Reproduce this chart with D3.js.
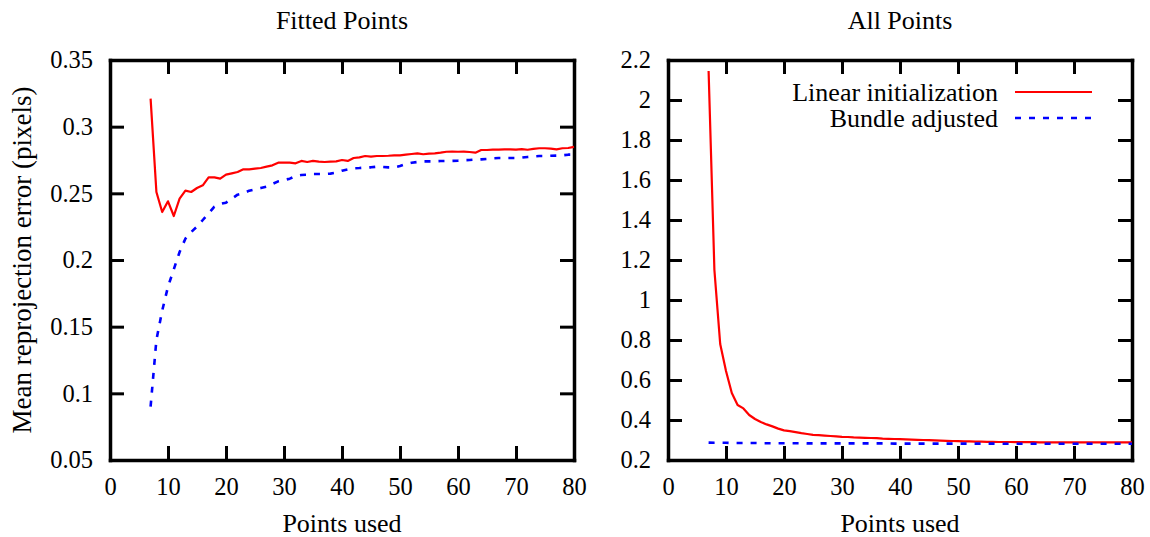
<!DOCTYPE html>
<html>
<head>
<meta charset="utf-8">
<script src="https://cdn.jsdelivr.net/npm/d3@7"></script>
<style>
	body { margin: 0; background: #fff; }
	svg { display: block; font-family: "Liberation Serif", "Times New Roman", serif; }
	.axis text { font-size: 24.5px; font-family: "Liberation Serif", serif; fill: #000; }
	.axis path { stroke: #000; stroke-width: 3.5; stroke-linecap: square; }
	.axis line { stroke: #000; stroke-width: 3; }
	.label { font-size: 26px; fill: #000; }
	.ylabel { font-size: 27px; fill: #000; }
</style>
</head>
<body>
<div id="chart"></div>
<script>
// x values (points used), one per sample
var pointsUsed = [7, 8, 9, 10, 11, 12, 13, 14, 15, 16, 17, 18, 19, 20, 21, 22, 23, 24, 25, 26,
	27, 28, 29, 30, 31, 32, 33, 34, 35, 36, 37, 38, 39, 40, 41, 42, 43, 44, 45, 46,
	47, 48, 49, 50, 51, 52, 53, 54, 55, 56, 57, 58, 59, 60, 61, 62, 63, 64, 65, 66,
	67, 68, 69, 70, 71, 72, 73, 74, 75, 76, 77, 78, 79, 80];

// left panel : fitted points
var fittedLinear = [0.321, 0.251, 0.236, 0.244, 0.233, 0.246, 0.252, 0.251, 0.254, 0.256,
	0.262, 0.262, 0.261, 0.264, 0.265, 0.266, 0.268, 0.268, 0.2685, 0.269,
	0.270, 0.271, 0.273, 0.273, 0.273, 0.2725, 0.2743, 0.2735, 0.2743, 0.2738,
	0.2735, 0.2738, 0.274, 0.275, 0.2743, 0.2765, 0.277, 0.278, 0.2775, 0.278,
	0.278, 0.2782, 0.2785, 0.2785, 0.279, 0.2795, 0.280, 0.2793, 0.2798, 0.280,
	0.2805, 0.2812, 0.2813, 0.2812, 0.2813, 0.281, 0.2805, 0.2825, 0.2825, 0.2828,
	0.2828, 0.283, 0.283, 0.2828, 0.2832, 0.2827, 0.2833, 0.2838, 0.2838, 0.2835,
	0.283, 0.2838, 0.284, 0.2848];
var fittedBundle = [0.090, 0.140, 0.162, 0.180, 0.193, 0.206, 0.216, 0.221, 0.225, 0.230,
	0.235, 0.240, 0.242, 0.243, 0.246, 0.249, 0.250, 0.252, 0.253, 0.254,
	0.255, 0.257, 0.259, 0.260, 0.261, 0.263, 0.2638, 0.264, 0.2645, 0.2645,
	0.2645, 0.2648, 0.2655, 0.267, 0.268, 0.2688, 0.269, 0.2693, 0.2695, 0.270,
	0.2698, 0.2695, 0.2695, 0.2705, 0.272, 0.273, 0.2735, 0.274, 0.274, 0.274,
	0.2742, 0.2743, 0.2743, 0.2745, 0.2748, 0.275, 0.2753, 0.2755, 0.2758, 0.2763,
	0.2765, 0.2765, 0.2765, 0.2765, 0.2768, 0.2773, 0.2777, 0.278, 0.278, 0.2782,
	0.2783, 0.2785, 0.279, 0.279];

// right panel : all points
var allLinear = [2.145, 1.15, 0.78, 0.645, 0.535, 0.475, 0.458, 0.425, 0.405, 0.39,
	0.378, 0.368, 0.357, 0.348, 0.344, 0.339, 0.334, 0.33, 0.326, 0.324,
	0.322, 0.32, 0.318, 0.316, 0.315, 0.313, 0.312, 0.311, 0.310, 0.309,
	0.307, 0.306, 0.305, 0.304, 0.303, 0.302, 0.301, 0.300, 0.299, 0.298,
	0.297, 0.296, 0.295, 0.294, 0.293, 0.293, 0.292, 0.292, 0.291, 0.291,
	0.290, 0.290, 0.290, 0.289, 0.289, 0.289, 0.289, 0.288, 0.288, 0.288,
	0.288, 0.288, 0.288, 0.288, 0.288, 0.288, 0.288, 0.288, 0.288, 0.288,
	0.288, 0.288, 0.288, 0.288];
var allBundle = [0.287, 0.286, 0.286, 0.286, 0.285, 0.285, 0.285, 0.285, 0.285, 0.284,
	0.284, 0.284, 0.284, 0.284, 0.284, 0.284, 0.284, 0.283, 0.283, 0.283,
	0.283, 0.283, 0.283, 0.283, 0.283, 0.283, 0.283, 0.283, 0.283, 0.283,
	0.283, 0.283, 0.282, 0.282, 0.282, 0.282, 0.282, 0.282, 0.282, 0.282,
	0.282, 0.282, 0.282, 0.282, 0.282, 0.282, 0.282, 0.282, 0.282, 0.282,
	0.281, 0.281, 0.281, 0.281, 0.281, 0.281, 0.281, 0.281, 0.281, 0.281,
	0.281, 0.281, 0.281, 0.281, 0.281, 0.281, 0.281, 0.281, 0.281, 0.281,
	0.281, 0.281, 0.281, 0.281];

var xTicks = [0, 10, 20, 30, 40, 50, 60, 70, 80];
var yTicksFitted = [0.05, 0.1, 0.15, 0.2, 0.25, 0.3, 0.35];
var yTicksAll = [0.2, 0.4, 0.6, 0.8, 1, 1.2, 1.4, 1.6, 1.8, 2, 2.2];
var seriesNames = ["Linear initialization", "Bundle adjusted"];

var seriesStyle = [
	{color: "#ff0000", width: 2.2, dash: null},
	{color: "#0000ff", width: 2.6, dash: "6,8"}
];

var marginTop = 60, h = 400, w = 464, tickLen = 14;

var panels = [
	{title: "Fitted Points", left: 110, series: [fittedLinear, fittedBundle],
		yDomain: [0.05, 0.35], yTicks: yTicksFitted, legend: false},
	{title: "All Points", left: 668, series: [allLinear, allBundle],
		yDomain: [0.2, 2.2], yTicks: yTicksAll, legend: true}
];

var svg = d3.select("#chart")
	.append("svg")
	.attr("width", 1150)
	.attr("height", 537);

panels.forEach(function (p) {
	var g = svg.append("g")
		.attr("transform", "translate(" + p.left + "," + marginTop + ")");

	var xScale = d3.scaleLinear().domain([0, 80]).range([0, w]);
	var yScale = d3.scaleLinear().domain(p.yDomain).range([h, 0]);

	// frame + ticks on all four sides (ticks point inward)
	g.append("g").attr("class", "axis")
		.attr("transform", "translate(0," + h + ")")
		.call(d3.axisBottom(xScale).tickValues(xTicks).tickSizeInner(-tickLen).tickSizeOuter(0).tickPadding(17.5));
	g.append("g").attr("class", "axis")
		.call(d3.axisTop(xScale).tickValues(xTicks).tickSizeInner(-tickLen).tickSizeOuter(0).tickFormat(""));
	g.append("g").attr("class", "axis")
		.call(d3.axisLeft(yScale).tickValues(p.yTicks).tickSizeInner(-tickLen).tickSizeOuter(0).tickPadding(17)
			.tickFormat(function (d) { return String(d); }));
	g.append("g").attr("class", "axis")
		.attr("transform", "translate(" + w + ",0)")
		.call(d3.axisRight(yScale).tickValues(p.yTicks).tickSizeInner(-tickLen).tickSizeOuter(0).tickFormat(""));

	var line = d3.line()
		.x(function (d, i) { return xScale(pointsUsed[i]); })
		.y(function (d) { return yScale(d); });

	p.series.forEach(function (values, k) {
		g.append("path")
			.datum(values)
			.attr("d", line)
			.attr("fill", "none")
			.attr("stroke", seriesStyle[k].color)
			.attr("stroke-width", seriesStyle[k].width)
			.attr("stroke-linejoin", "round")
			.attr("stroke-dasharray", seriesStyle[k].dash);
	});

	g.append("text")
		.attr("class", "label")
		.attr("x", w / 2)
		.attr("y", 29 - marginTop)
		.attr("text-anchor", "middle")
		.text(p.title);

	g.append("text")
		.attr("class", "label")
		.attr("x", w / 2)
		.attr("y", 532 - marginTop)
		.attr("text-anchor", "middle")
		.text("Points used");

	if (p.legend) {
		seriesNames.forEach(function (name, k) {
			var ly = 32 + k * 26;
			g.append("text")
				.attr("class", "label")
				.attr("x", 330)
				.attr("y", ly + 8.5)
				.attr("text-anchor", "end")
				.text(name);
			g.append("line")
				.attr("x1", 347).attr("x2", 424)
				.attr("y1", ly).attr("y2", ly)
				.attr("stroke", seriesStyle[k].color)
				.attr("stroke-width", seriesStyle[k].width)
				.attr("stroke-dasharray", seriesStyle[k].dash);
		});
	}
});

// shared y label
svg.append("text")
	.attr("class", "ylabel")
	.attr("transform", "translate(31," + (marginTop + h / 2) + ") rotate(-90)")
	.attr("text-anchor", "middle")
	.text("Mean reprojection error (pixels)");
</script>
</body>
</html>
